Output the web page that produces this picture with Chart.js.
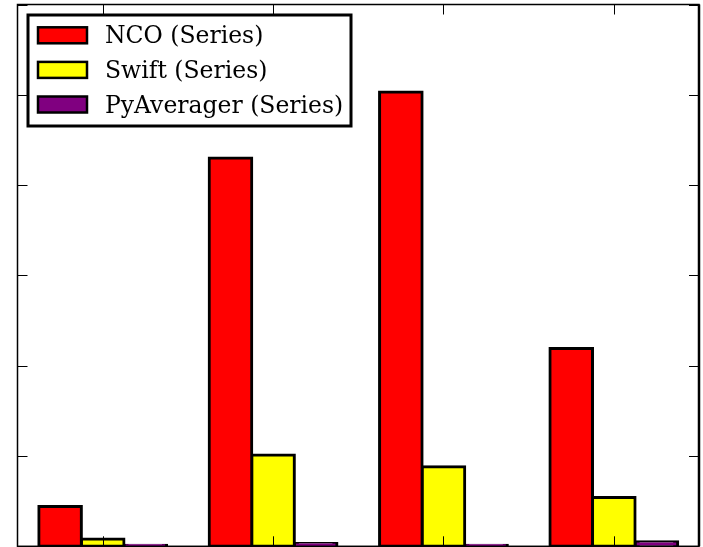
<!DOCTYPE html>
<html>
<head>
<meta charset="utf-8">
<script src="https://cdn.jsdelivr.net/npm/chart.js@4/dist/chart.umd.min.js"></script>
<style>
html,body{margin:0;padding:0;background:#fff;}
#wrap{width:703px;height:547px;}
</style>
</head>
<body>
<div id="wrap"><canvas id="c" width="703" height="547"></canvas></div>
<script>
const categories = ["A", "B", "C", "D"];
const ncoValues = [0.44, 4.30, 5.03, 2.19];
const swiftValues = [0.08, 1.01, 0.88, 0.54];
const pyAveragerValues = [0.005, 0.03, 0.005, 0.05];
const seriesLabels = ["NCO (Series)", "Swift (Series)", "PyAverager (Series)"];
const seriesColors = ["#ff0000", "#ffff00", "#800080"];
const yTickValues = [0, 1, 2, 3, 4, 5, 6];

const framePlugin = {
  id: 'frame',
  afterDatasetsDraw(chart) {
    const ctx = chart.ctx;
    const a = chart.chartArea;
    const xs = chart.scales.x, ys = chart.scales.y;
    ctx.save();
    ctx.strokeStyle = '#000';
    ctx.lineWidth = 1;
    const L = 10;
    ctx.beginPath();
    categories.forEach((c, i) => {
      const px = Math.round(xs.getPixelForValue(i)) + 0.5;
      ctx.moveTo(px, a.top); ctx.lineTo(px, a.top + L);
      ctx.moveTo(px, a.bottom); ctx.lineTo(px, a.bottom - L);
    });
    yTickValues.forEach(v => {
      const py = Math.round(ys.getPixelForValue(v)) + 0.5;
      ctx.moveTo(a.left, py); ctx.lineTo(a.left + L, py);
      ctx.moveTo(a.right, py); ctx.lineTo(a.right - L, py);
    });
    ctx.stroke();
    ctx.lineWidth = 1.5;
    ctx.strokeRect(a.left, a.top, a.right - a.left, a.bottom - a.top);
    ctx.lineWidth = 2.5;
    ctx.beginPath();
    ctx.moveTo(a.right, a.top); ctx.lineTo(a.right, a.bottom);
    ctx.stroke();
    ctx.restore();
  },
  afterDraw(chart) {
    const ctx = chart.ctx;
    ctx.save();
    const bx = 28, by = 15, bw = 323, bh = 111;
    ctx.fillStyle = '#fff';
    ctx.fillRect(bx, by, bw, bh);
    ctx.lineWidth = 3;
    ctx.strokeStyle = '#000';
    ctx.strokeRect(bx, by, bw, bh);
    ctx.font = '23.5px "DejaVu Serif", "Liberation Serif", serif';
    ctx.textBaseline = 'alphabetic';
    chart.data.datasets.forEach((ds, i) => {
      const cy = 35.3 + i * 34.6;
      ctx.fillStyle = ds.backgroundColor;
      ctx.fillRect(38, cy - 8, 49, 16);
      ctx.lineWidth = 2.5;
      ctx.strokeStyle = '#000';
      ctx.strokeRect(38, cy - 8, 49, 16);
      ctx.fillStyle = '#000';
      ctx.fillText(ds.label, 105, cy + 8);
    });
    ctx.restore();
  }
};

const datasets = [ncoValues, swiftValues, pyAveragerValues].map((vals, i) => ({
  label: seriesLabels[i],
  data: vals,
  backgroundColor: seriesColors[i],
  borderColor: '#000',
  borderWidth: 3,
  borderSkipped: false,
  inflateAmount: 1.5,
  minBarLength: 1,
  categoryPercentage: 0.75,
  barPercentage: 1.0
}));

new Chart(document.getElementById('c'), {
  type: 'bar',
  data: { labels: categories, datasets: datasets },
  options: {
    responsive: false,
    animation: false,
    layout: { padding: { left: 17.5, top: 4.5, right: 4, bottom: 0.7 } },
    plugins: { legend: { display: false }, tooltip: { enabled: false } },
    scales: {
      x: { display: false, offset: true, grid: { offset: true } },
      y: { display: false, min: 0, max: 6 }
    }
  },
  plugins: [framePlugin]
});
</script>
</body>
</html>
